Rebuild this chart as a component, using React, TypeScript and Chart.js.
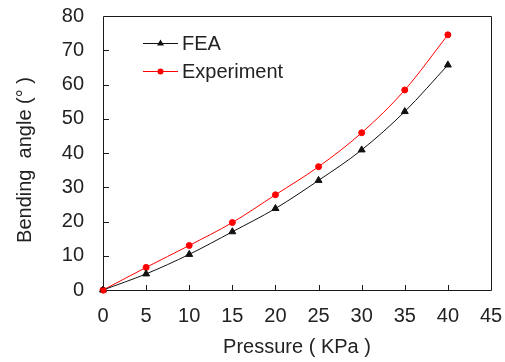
import React, { useEffect, useRef } from "react";
import { Chart, registerables } from "chart.js";

Chart.register(...registerables);

const pressure = [0, 5, 10, 15, 20, 25, 30, 35, 40];
const feaAngle = [0, 4.7, 10.4, 17.0, 23.8, 32.0, 40.9, 52.1, 65.7];
const expAngle = [0, 6.6, 13.0, 19.7, 27.8, 36.0, 45.9, 58.4, 74.5];
const seriesNames = ["FEA", "Experiment"];
const xTitle = "Pressure ( KPa )";
const yTitle = "Bending  angle (° )";

const FONT = "'Liberation Sans', Arial, sans-serif";
const TXT = "#222";

const boxPlugin = {
  id: "boxTicks",
  afterDraw(chart: any) {
    const ctx = chart.ctx;
    const sx = chart.scales.x;
    const sy = chart.scales.y;
    const L = Math.round(sx.getPixelForValue(0));
    const R = Math.round(sx.getPixelForValue(45));
    const T = Math.round(sy.getPixelForValue(80));
    const B = Math.round(sy.getPixelForValue(0));
    ctx.save();
    ctx.strokeStyle = "#1a1a1a";
    ctx.lineWidth = 1;
    ctx.beginPath();
    ctx.moveTo(L + 0.5, T + 0.5);
    ctx.lineTo(R + 0.5, T + 0.5);
    ctx.lineTo(R + 0.5, B + 0.5);
    ctx.lineTo(L + 0.5, B + 0.5);
    ctx.closePath();
    for (let v = 5; v < 45; v += 5) {
      const px = Math.round(sx.getPixelForValue(v)) + 0.5;
      ctx.moveTo(px, B + 0.5);
      ctx.lineTo(px, B - 5);
    }
    for (let v = 10; v < 80; v += 10) {
      const py = Math.round(sy.getPixelForValue(v)) + 0.5;
      ctx.moveTo(L + 0.5, py);
      ctx.lineTo(L + 6, py);
    }
    ctx.stroke();

    ctx.fillStyle = "#ff0000";
    ctx.beginPath();
    ctx.arc(L + 0.5, B + 0.5, 3, 0, Math.PI * 2);
    ctx.fill();

    ctx.save();
    ctx.translate(25, 160);
    ctx.rotate(-Math.PI / 2);
    ctx.fillStyle = TXT;
    ctx.font = `20px ${FONT}`;
    ctx.textAlign = "center";
    ctx.textBaseline = "middle";
    ctx.fillText(yTitle, 0, 0);
    ctx.restore();

    const rows = [
      { y: 43, ds: chart.data.datasets[0] },
      { y: 71, ds: chart.data.datasets[1] },
    ];
    for (const row of rows) {
      ctx.strokeStyle = row.ds.borderColor;
      ctx.lineWidth = 1;
      ctx.beginPath();
      ctx.moveTo(143, row.y + 0.5);
      ctx.lineTo(178, row.y + 0.5);
      ctx.stroke();
      ctx.fillStyle = row.ds.pointBackgroundColor;
      ctx.beginPath();
      if (row.ds.pointStyle === "triangle") {
        ctx.moveTo(160.5, row.y - 3.5);
        ctx.lineTo(164, row.y + 2.5);
        ctx.lineTo(157, row.y + 2.5);
        ctx.closePath();
      } else {
        ctx.arc(160.5, row.y + 0.5, 3, 0, Math.PI * 2);
      }
      ctx.fill();
      ctx.fillStyle = TXT;
      ctx.font = `20px ${FONT}`;
      ctx.textBaseline = "middle";
      ctx.textAlign = "left";
      ctx.fillText(row.ds.label, 182, row.y + 1);
    }
    ctx.restore();
  },
};

export default function App() {
  const ref = useRef<HTMLCanvasElement>(null);
  useEffect(() => {
    document.body.style.margin = "0";
    const chart = new Chart(ref.current!, {
      type: "line",
      data: {
        datasets: [
          {
            label: seriesNames[0],
            data: pressure.map((p, i) => ({ x: p, y: feaAngle[i] })),
            borderColor: "#111",
            backgroundColor: "#111",
            pointBackgroundColor: "#111",
            pointBorderColor: "#111",
            pointStyle: "triangle",
            pointRadius: 4,
            borderWidth: 1,
            cubicInterpolationMode: "monotone",
            clip: false,
          },
          {
            label: seriesNames[1],
            data: pressure.map((p, i) => ({ x: p, y: expAngle[i] })),
            borderColor: "#ff0000",
            backgroundColor: "#ff0000",
            pointBackgroundColor: "#ff0000",
            pointBorderColor: "#ff0000",
            pointStyle: "circle",
            pointRadius: 3,
            borderWidth: 1,
            cubicInterpolationMode: "monotone",
            clip: false,
          },
        ],
      } as any,
      options: {
        responsive: false,
        animation: false,
        layout: { padding: { top: 16, right: 14, left: 0, bottom: 0 } },
        plugins: { legend: { display: false }, tooltip: { enabled: false } },
        scales: {
          x: {
            type: "linear",
            min: 0,
            max: 45,
            ticks: { stepSize: 5, color: TXT, font: { family: FONT, size: 20 }, padding: 14, maxRotation: 0 },
            grid: { display: false, drawTicks: false },
            border: { display: false },
            title: { display: true, text: xTitle, color: TXT, font: { family: FONT, size: 20 }, padding: { top: 0, bottom: 3 } },
            afterFit: (s: any) => { s.height = 72; s.paddingLeft = 0; s.paddingRight = 0; },
          },
          y: {
            min: 0,
            max: 80,
            ticks: { stepSize: 10, color: TXT, font: { family: FONT, size: 20 }, padding: 19 },
            grid: { display: false, drawTicks: false },
            border: { display: false },
            title: { display: false },
            afterFit: (s: any) => { s.width = 103; s.paddingTop = 0; s.paddingBottom = 0; },
          },
        },
      } as any,
      plugins: [boxPlugin],
    });
    return () => chart.destroy();
  }, []);
  return (
    <div style={{ width: 505, height: 362 }}>
      <canvas ref={ref} width={505} height={362} />
    </div>
  );
}
